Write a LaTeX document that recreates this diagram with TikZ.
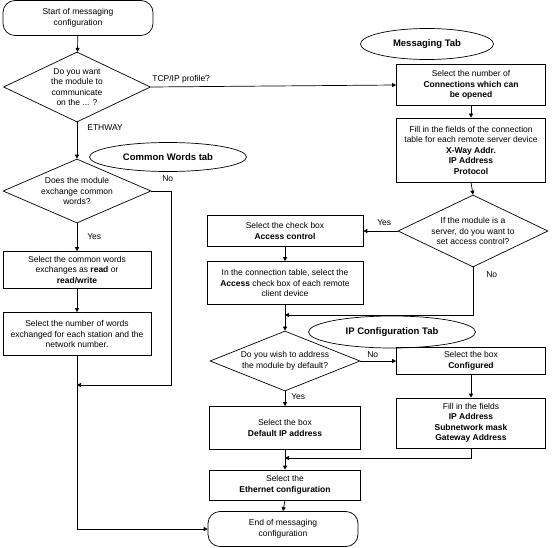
\documentclass[tikz,border=0pt]{standalone}
\usepackage{fontspec}
\setmainfont{Liberation Sans}
\usetikzlibrary{shapes.geometric,arrows.meta}
\begin{document}
\begin{tikzpicture}[x=1pt, y=-1pt, line width=0.7pt,
	txt/.style={font=\fontsize{8.5}{10.5}\selectfont, align=center},
	box/.style={txt, rectangle, draw, inner sep=1pt},
	term/.style={txt, rectangle, draw, rounded corners=12pt, minimum width=150pt, minimum height=35pt},
	decision/.style={txt, diamond, draw, inner sep=-3pt},
	tab/.style={ellipse, draw, inner sep=0pt, font=\fontsize{9.5}{12}\selectfont\bfseries},
	lbl/.style={font=\fontsize{8.5}{10}\selectfont, inner sep=0pt},
	arr/.style={-{Triangle[length=4pt,width=4pt]}}]
	\useasboundingbox (0,0) rectangle (552,548);

	% Start and end
	\node[term] (start) at (78,18) {Start of messaging\\configuration};
	\node[term] (end) at (283,529) {End of messaging\\configuration};

	% Left column: protocol and common words
	\node[decision, aspect=2.1, minimum width=147pt, minimum height=70pt] (proto) at (77,87) {Do you want\\the module to\\communicate\\on the ... ?};
	\node[tab, minimum width=157pt, minimum height=29pt] (cwtab) at (168,157) {Common Words tab};
	\node[decision, aspect=2.3, minimum width=148pt, minimum height=64pt] (cw) at (77,191) {Does the module\\exchange common\\words?};
	\node[box, minimum width=148pt, minimum height=37pt] (rw) at (77,270) {Select the common words\\exchanges as \textbf{read} or\\\textbf{read/write}};
	\node[box, minimum width=148pt, minimum height=43pt] (words) at (77,334) {Select the number of words\\exchanged for each station and the\\network number.};
	\coordinate (cwjoin) at (77,385);

	% Right column: messaging tab
	\node[tab, minimum width=133pt, minimum height=31pt] (msgtab) at (427,44) {Messaging Tab};
	\node[box, minimum width=149pt, minimum height=41pt] (conn) at (471,85) {Select the number of\\\textbf{Connections which can}\\\textbf{be opened}};
	\node[box, minimum width=149pt, minimum height=64pt] (fields) at (471,150) {Fill in the fields of the connection\\table for each remote server device\\\textbf{X-Way Addr.}\\\textbf{IP Address}\\\textbf{Protocol}};
	\node[decision, aspect=2.1, minimum width=150pt, minimum height=72pt] (srv) at (473,231) {If the module is a\\server, do you want to\\set access control?};
	\node[box, minimum width=156pt, minimum height=31pt] (acc) at (285,231) {Select the check box\\\textbf{Access control}};
	\node[box, minimum width=156pt, minimum height=43pt] (table) at (285,283) {In the connection table, select the\\\textbf{Access} check box of each remote\\client device};
	\coordinate (accjoin) at (285,315);

	% IP configuration tab
	\node[tab, minimum width=167pt, minimum height=32pt] (iptab) at (392,332) {IP Configuration Tab};
	\node[decision, aspect=2.5, minimum width=150pt, minimum height=60pt] (dflt) at (285,361) {Do you wish to address\\the module by default?};
	\node[box, minimum width=149pt, minimum height=27pt] (cfg) at (471,361) {Select the box\\\textbf{Configured}};
	\node[box, minimum width=149pt, minimum height=50pt] (ipf) at (471,423) {Fill in the fields\\\textbf{IP Address}\\\textbf{Subnetwork mask}\\\textbf{Gateway Address}};
	\node[box, minimum width=151pt, minimum height=43pt] (defbox) at (285,428) {Select the box\\\textbf{Default IP address}};
	\coordinate (ipjoin) at (285,458);
	\node[box, minimum width=151pt, minimum height=30pt] (eth) at (285,485) {Select the\\\textbf{Ethernet configuration}};

	% Connectors, left
	\draw[arr] (start) -- (proto);
	\draw[arr] (proto.south) -- (cw.north);
	\draw[arr] (cw.south) -- (rw.north);
	\draw[arr] (rw.south) -- (words.north);
	\draw[arr] (cw.east) -- ++(20,0) |- (cwjoin);
	\draw[arr] (words.south) |- (end.west);

	% Connectors, right
	\draw[arr] (proto.east) -- (conn.west);
	\draw[arr] (conn.south) -- (fields.north);
	\draw[arr] (fields.south) -- (srv.north);
	\draw[arr] (srv.west) -- (acc.east);
	\draw[arr] (acc.south) -- (table.north);
	\draw[arr] (srv.south) |- (accjoin);
	\draw[arr] (table.south) -- (dflt.north);
	\draw[arr] (dflt.east) -- (cfg.west);
	\draw[arr] (cfg.south) -- (ipf.north);
	\draw[arr] (ipf.south) |- (ipjoin);
	\draw[arr] (dflt.south) -- (defbox.north);
	\draw[arr] (defbox.south) -- (eth.north);
	\draw[arr] (eth.south) -- (end.north);

	% Branch labels
	\node[lbl, anchor=west] (l1) at (152,79) {TCP/IP profile?};
	\node[lbl, anchor=west] (l2) at (87,128) {ETHWAY};
	\node[lbl, anchor=west] (l3) at (162,179) {No};
	\node[lbl, anchor=west] (l4) at (87,237) {Yes};
	\node[lbl, anchor=west] (l5) at (377,223) {Yes};
	\node[lbl, anchor=west] (l6) at (486,275) {No};
	\node[lbl, anchor=west] (l7) at (367,355) {No};
	\node[lbl, anchor=west] (l8) at (291,397) {Yes};
\end{tikzpicture}
\end{document}
